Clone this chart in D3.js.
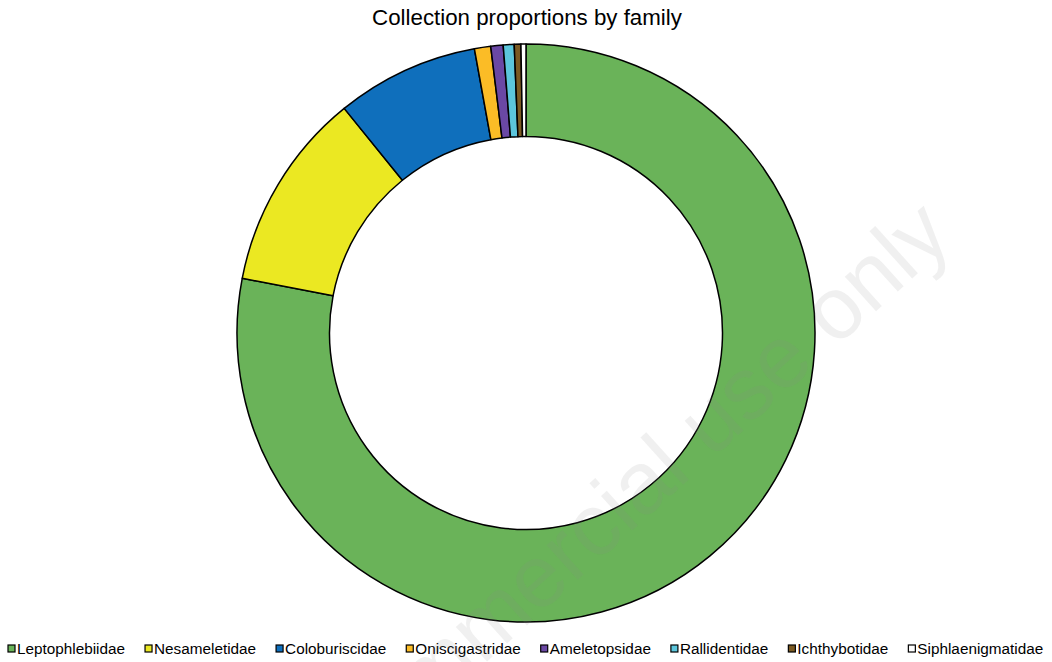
<!DOCTYPE html>
<html>
<head>
<meta charset="utf-8">
<script src="https://cdn.jsdelivr.net/npm/d3@7"></script>
<style>
  html, body { margin: 0; padding: 0; background: #fff; }
  svg { display: block; }
</style>
</head>
<body>
<svg id="chart" width="1052" height="662"></svg>
<script>
const families = ["Leptophlebiidae", "Nesameletidae", "Coloburiscidae", "Oniscigastridae",
                  "Ameletopsidae", "Rallidentidae", "Ichthybotidae", "Siphlaenigmatidae"];
const proportions = [78.04, 11.14, 7.97, 0.91, 0.69, 0.61, 0.37, 0.28];
const colors = ["#6ab359", "#ebe822", "#0f6fbc", "#fbbc26", "#6a48a4", "#5cc6dc", "#7b5a22", "#ffffff"];
const title = "Collection proportions by family";
const watermark = "For non-commercial use only";

const W = 1052, H = 662;
const cx = 526, cy = 333, outerR = 289, innerR = 196.5;
const svg = d3.select("#chart");
const font = "Liberation Sans, Arial, Helvetica, sans-serif";

const data = families.map((f, i) => ({ name: f, value: proportions[i], color: colors[i] }));

svg.append("text")
  .attr("x", 527).attr("y", 25)
  .attr("text-anchor", "middle")
  .attr("font-family", font).attr("font-size", 22.3)
  .attr("fill", "#000")
  .text(title);

const pie = d3.pie().value(d => d.value).sort(null);
const arc = d3.arc().innerRadius(innerR).outerRadius(outerR);

const g = svg.append("g").attr("transform", `translate(${cx},${cy})`);
g.selectAll("path").data(pie(data)).join("path")
  .attr("d", arc)
  .attr("fill", d => d.data.color)
  .attr("stroke", "#000")
  .attr("stroke-width", 1.5)
  .attr("stroke-linejoin", "round");

// legend
const legend = svg.append("g");
const items = legend.selectAll("g").data(data).join("g");
items.append("rect")
  .attr("x", 0).attr("y", 645).attr("width", 7).attr("height", 7)
  .attr("fill", d => d.color).attr("stroke", "#000").attr("stroke-width", 1.2);
items.append("text")
  .attr("x", 9).attr("y", 653.5)
  .attr("font-family", font).attr("font-size", 15.3)
  .attr("fill", "#000")
  .text(d => d.name);
let x = 0;
const gap = 20;
items.each(function() {
  const w = this.querySelector("text").getComputedTextLength() + 9;
  d3.select(this).attr("transform", `translate(${x},0)`);
  x += w + gap;
});
legend.attr("transform", "translate(8,0)");

// watermark
svg.append("text")
  .attr("transform", "translate(955,240) rotate(-42)")
  .attr("text-anchor", "end")
  .attr("font-family", font).attr("font-size", 88)
  .attr("fill", "#888").attr("fill-opacity", 0.13)
  .text(watermark);
</script>
</body>
</html>
